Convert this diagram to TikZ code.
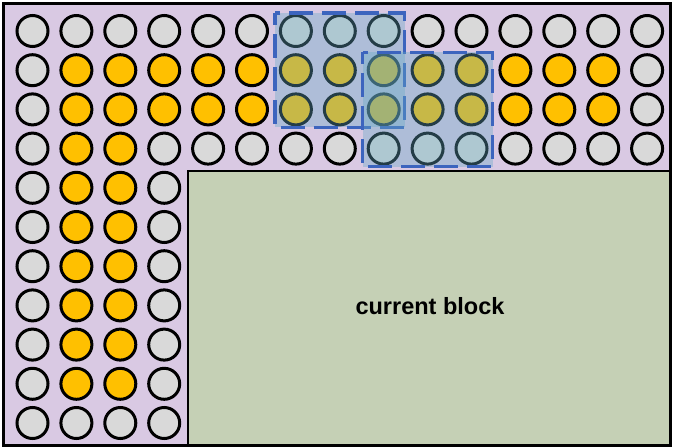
\documentclass[tikz,border=0pt]{standalone}
\usepackage{fontspec}
\setmainfont{Liberation Sans}
\usetikzlibrary{calc}
\definecolor{bgpurple}{RGB}{217,201,227}
\definecolor{blkgreen}{RGB}{197,208,181}
\definecolor{cgray}{RGB}{217,217,217}
\definecolor{corange}{RGB}{255,192,0}
\definecolor{selfill}{RGB}{100,170,197}
\definecolor{seldraw}{RGB}{60,100,190}
\tikzset{
  gc/.style={circle, draw=black, line width=3pt, fill=cgray, minimum size=31pt, inner sep=0pt},
  oc/.style={gc, fill=corange},
  selbox/.style={draw=seldraw, line width=3.2pt, dash pattern=on 24pt off 9pt, dash phase=12pt,
                 fill=selfill, fill opacity=0.36, draw opacity=1},
  blockbox/.style={draw=black, line width=2.5pt, fill=blkgreen, minimum width=482pt,
                   minimum height=274pt, inner sep=0pt},
  lbltext/.style={font=\bfseries\fontsize{23.5}{28}\selectfont, inner sep=0pt},
}
\begin{document}
\begin{tikzpicture}[x=1pt,y=-1pt]
\useasboundingbox (0,0) rectangle (673,447);
\fill[bgpurple] (3,3) rectangle (670,445);
\node[blockbox] (blk) at (429,308) {};
\node[lbltext] (lbl) at (430,306) {current block};
\foreach \i in {0,...,10}{
  \foreach \j in {0,...,14}{
    \pgfmathtruncatemacro\show{(\i<4) || (\j<4)}
    \pgfmathtruncatemacro\org{(\i>0) && (\i<10) && (\j>0) && ((\j<3) || ((\i<3) && (\j<14)))}
    \ifnum\show=1
      \ifnum\org=1
        \node[oc] (c-\i-\j) at ({32.5+43.9*\j},{31+39.2*\i}) {};
      \else
        \node[gc] (c-\i-\j) at ({32.5+43.9*\j},{31+39.2*\i}) {};
      \fi
    \fi
  }
}
\draw[selbox] ([xshift=-21pt,yshift=18pt]c-0-6.center) rectangle ([xshift=21pt,yshift=-18pt]c-2-8.center);
\draw[selbox] ([xshift=-21pt,yshift=18pt]c-1-8.center) rectangle ([xshift=21pt,yshift=-18pt]c-3-10.center);
\draw[line width=3pt] (3,3) rectangle (670,445);
\end{tikzpicture}
\end{document}
